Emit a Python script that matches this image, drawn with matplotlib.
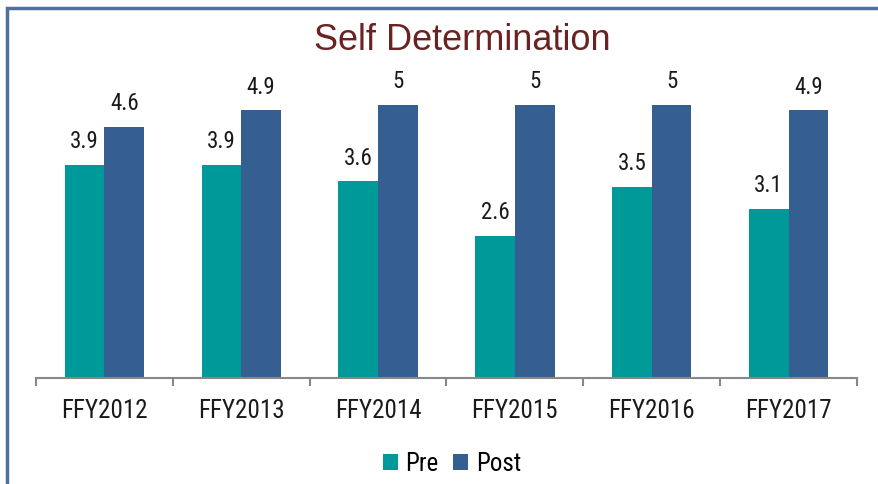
import matplotlib
matplotlib.use("Agg")
import matplotlib.pyplot as plt
import numpy as np
from matplotlib.patches import Rectangle

categories = ["FFY2012", "FFY2013", "FFY2014", "FFY2015", "FFY2016", "FFY2017"]
pre = [3.9, 3.9, 3.6, 2.6, 3.5, 3.1]
post = [4.6, 4.9, 5, 5, 5, 4.9]

pre_color = "#009999"
post_color = "#365F91"

plt.rcParams['font.family'] = ['Roboto Condensed', 'DejaVu Sans']

fig = plt.figure(figsize=(8.79, 4.84), dpi=100)
fig.patches.append(Rectangle((7/879, -0.1), 1.2, 1 - 8/484 + 0.1, transform=fig.transFigure,
                             fill=False, edgecolor="#4F6FA0", linewidth=2.5))

ax = fig.add_axes([36/879, 106/484, (857-36)/879, (433.6-106)/484])
x = np.arange(len(categories))
w = 0.29
b1 = ax.bar(x - w/2, pre, w, color=pre_color, label="Pre")
b2 = ax.bar(x + w/2, post, w, color=post_color, label="Post")

for bars, vals in ((b1, pre), (b2, post)):
    for r, v in zip(bars, vals):
        ax.text(r.get_x() + r.get_width()/2, v + 0.31, f"{v:g}", ha="center", va="baseline",
                fontsize=16.5, color="#1a1a1a")

ax.set_xlim(-0.5, len(categories) - 0.5)
ax.set_ylim(0, 6)
ax.set_yticks([])
for s in ("top", "right", "left"):
    ax.spines[s].set_visible(False)
ax.spines["bottom"].set_color("#888888")
ax.spines["bottom"].set_linewidth(1.5)
ax.set_xticks(np.arange(-0.5, len(categories)), minor=False)
ax.set_xticklabels([])
ax.tick_params(axis="x", which="major", length=6, width=1.5, color="#888888")
ax.set_xticks(x, minor=True)
ax.set_xticklabels(categories, minor=True, fontsize=18, color="#1a1a1a")
ax.tick_params(axis="x", which="minor", length=0, pad=15)

fig.text(462/879, 1 - 41/484, "Self Determination", ha="center", va="center",
         fontsize=26, color="#6B2222", family=['Liberation Sans', 'DejaVu Sans'])

fig.legend(handles=[b1, b2], labels=["Pre", "Post"], loc="center", bbox_to_anchor=(452/879, 1 - 464/484),
           ncol=2, frameon=False, fontsize=18, handlelength=0.6, handleheight=0.6,
           handletextpad=0.3, columnspacing=0.6)

fig.savefig("out.png", dpi=100)
